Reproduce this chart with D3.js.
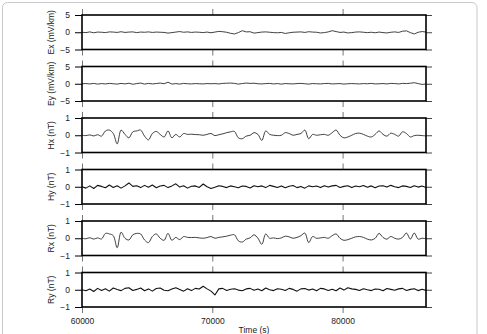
<!DOCTYPE html>
<html>
<head>
<meta charset="utf-8">
<script src="https://cdn.jsdelivr.net/npm/d3@7"></script>
<style>
  body { margin: 0; background: #fff; }
  svg { display: block; font-family: "Liberation Sans", Arial, sans-serif; }
  .axis text { font-size: 8.5px; fill: #222; }
</style>
</head>
<body>
<script>
// sample times (s)
var times = [60000,60300,60600,60900,61200,61500,61800,62100,62400,62700,
63000,63300,63600,63900,64200,64500,64800,65100,65400,65700,
66000,66300,66600,66900,67200,67500,67800,68100,68400,68700,
69000,69300,69600,69900,70200,70500,70800,71100,71400,71700,
72000,72300,72600,72900,73200,73500,73800,74100,74400,74700,
75000,75300,75600,75900,76200,76500,76800,77100,77400,77700,
78000,78300,78600,78900,79200,79500,79800,80100,80400,80700,
81000,81300,81600,81900,82200,82500,82800,83100,83400,83700,
84000,84300,84600,84900,85200,85500,85800,86100,86400];

var ex = [0.0,-0.1,0.1,-0.15,0.05,0.0,-0.1,0.1,0.05,-0.05,
0.15,-0.05,0.05,0.1,-0.1,0.05,0.0,0.1,-0.05,0.05,
0.0,-0.05,-0.25,-0.1,0.05,0.2,0.0,0.1,-0.05,0.05,
0.0,-0.1,0.05,-0.15,0.05,0.25,0.15,0.0,-0.3,-0.5,
-0.1,0.45,0.1,0.15,-0.25,-0.1,0.05,0.1,0.0,-0.1,
-0.15,-0.05,-0.35,-0.15,0.0,0.05,0.1,-0.05,0.15,0.05,
0.0,-0.2,-0.1,0.1,0.45,0.2,-0.05,0.05,-0.2,-0.1,
0.05,0.1,0.0,-0.1,0.0,-0.15,0.05,-0.1,-0.2,0.0,
0.1,-0.05,0.3,0.4,-0.1,-0.5,0.0,0.2,0.05];

var ey = [0.0,0.05,-0.05,0.1,-0.1,0.05,-0.05,0.1,0.0,-0.1,
0.1,-0.05,0.15,-0.15,0.05,0.2,-0.1,0.1,-0.05,0.05,
0.2,0.0,0.45,-0.1,0.05,-0.1,0.1,0.0,-0.05,0.05,
0.0,-0.05,0.05,0.0,0.05,-0.05,0.1,0.15,0.2,0.1,
-0.1,0.05,0.2,0.1,0.15,0.0,-0.05,0.05,0.1,-0.05,
0.05,-0.1,0.05,0.0,-0.05,0.05,0.1,0.0,-0.1,0.05,
0.0,-0.05,0.05,0.1,-0.05,0.0,0.05,-0.1,0.0,0.05,
0.0,-0.05,0.05,0.0,0.1,-0.05,0.0,0.05,-0.05,0.1,
0.05,-0.05,0.1,0.05,0.15,0.3,0.05,-0.2,-0.05];

var hx = [0.0,-0.02,0.02,-0.04,0.03,-0.05,0.25,0.3,0.1,-0.5,
0.3,0.05,-0.15,0.2,0.25,0.3,-0.05,-0.27,0.1,0.22,
0.05,-0.1,0.25,-0.15,0.05,-0.1,0.1,0.05,0.06,0.04,
0.03,0.0,0.05,0.1,-0.02,0.03,0.08,0.15,0.2,0.22,
-0.15,-0.2,-0.05,0.0,0.15,0.05,-0.3,0.25,0.05,0.0,
-0.02,0.0,0.15,0.1,0.0,0.05,0.1,0.3,-0.2,0.05,
0.0,0.03,0.05,0.0,0.15,0.3,0.0,-0.15,-0.1,0.0,
0.1,0.12,0.05,-0.05,-0.1,0.05,0.25,0.05,-0.05,0.12,
0.05,-0.05,0.2,0.1,-0.1,-0.02,0.0,-0.02,-0.04];

var hy = [0.0,-0.08,0.05,-0.1,0.08,0.02,-0.06,0.1,-0.04,0.06,
-0.08,0.05,0.22,0.02,0.06,-0.05,0.08,-0.03,0.1,-0.06,
0.04,0.08,-0.05,0.05,0.17,-0.02,0.06,-0.08,0.03,0.05,
-0.04,0.16,0.0,-0.1,-0.03,0.06,0.02,-0.05,0.05,0.0,
-0.06,0.04,0.02,-0.07,0.06,0.0,0.05,-0.05,0.08,0.02,
-0.04,0.05,-0.06,0.03,0.07,-0.05,0.02,-0.08,0.05,0.0,
0.04,-0.05,0.06,-0.02,0.05,0.08,-0.04,0.02,0.06,-0.05,
0.04,0.0,0.07,-0.03,0.05,-0.06,0.04,0.06,-0.02,0.08,
0.0,-0.05,0.05,0.02,-0.04,0.06,-0.02,0.04,-0.05];

var rx = [0.0,-0.03,0.03,-0.05,0.02,-0.04,0.28,0.25,0.15,-0.55,
0.35,0.0,-0.1,0.2,0.28,0.25,-0.1,-0.25,0.1,0.25,
0.0,-0.12,0.28,-0.12,0.05,-0.08,0.1,0.05,0.04,0.05,
0.02,0.0,0.04,0.1,0.0,0.05,0.08,0.12,0.18,0.2,
-0.15,-0.22,-0.05,0.02,0.2,0.0,-0.35,0.25,0.0,0.02,
-0.02,0.02,0.12,0.08,0.0,0.05,0.15,0.3,-0.25,0.1,
0.0,0.02,0.05,0.0,0.15,0.25,0.0,-0.12,-0.08,0.0,
0.08,0.1,0.05,-0.05,-0.1,0.0,0.28,0.05,-0.05,0.1,
0.0,-0.05,0.05,0.3,-0.05,0.3,-0.05,0.0,-0.03];

var ry = [0.0,-0.06,0.04,-0.1,0.08,-0.04,0.06,-0.08,0.1,0.02,
-0.05,0.08,0.12,-0.04,0.02,0.1,-0.06,0.05,-0.08,0.07,
0.1,-0.03,-0.06,0.04,0.12,0.02,-0.08,0.06,-0.05,0.08,
0.04,0.2,0.05,-0.08,-0.3,0.05,0.08,-0.04,0.03,0.06,
-0.02,-0.06,0.05,0.08,-0.03,0.04,-0.06,0.1,0.0,-0.05,
0.06,0.03,-0.04,0.08,0.02,-0.08,0.05,0.07,-0.02,0.04,
-0.06,0.08,0.05,-0.04,0.03,-0.06,0.1,-0.02,0.12,0.05,
0.02,-0.04,0.06,0.0,-0.05,0.04,0.03,-0.06,0.07,0.02,
-0.03,0.05,0.08,-0.04,0.02,0.06,-0.05,0.03,-0.04];

var labels = ["Ex (mV/km)", "Ey (mV/km)", "Hx (nT)", "Hy (nT)", "Rx (nT)", "Ry (nT)"];
var limits = [5, 5, 1, 1, 1, 1];
var series = [ex, ey, hx, hy, rx, ry];
var xTicks = [60000, 70000, 80000];

var W = 487, H = 334;
var left = 82, pw = 344, ph = 34.5, top0 = 15, step = 51.5;

var svg = d3.select("body").append("svg")
  .attr("width", W).attr("height", H);

// figure frame
svg.append("rect")
  .attr("x", 2.5).attr("y", 2.5)
  .attr("width", 474.5).attr("height", 340)
  .attr("rx", 5)
  .attr("fill", "none")
  .attr("stroke", "#c8c8c8");

var xScale = d3.scaleLinear().domain([60000, 86400]).range([0, pw]);

series.forEach(function(vals, k) {
  var lim = limits[k];
  var yScale = d3.scaleLinear().domain([-lim, lim]).range([ph, 0]);
  var g = svg.append("g")
    .attr("transform", "translate(" + left + "," + (top0 + k * step) + ")");

  g.append("clipPath").attr("id", "clip" + k)
    .append("rect").attr("width", pw).attr("height", ph);

  // x ticks above and below each panel
  g.append("g").attr("class", "xt")
    .call(d3.axisTop(xScale).tickValues(xTicks).tickSize(6).tickFormat(""));
  var xb = g.append("g").attr("class", "xt")
    .attr("transform", "translate(0," + ph + ")")
    .call(d3.axisBottom(xScale).tickValues(xTicks).tickSize(6).tickPadding(5)
      .tickFormat(k === series.length - 1 ? d3.format("d") : ""));
  g.selectAll(".xt .domain").remove();
  g.selectAll(".xt line").attr("stroke", "#777");
  xb.attr("class", "axis");

  // y axis left with labels, right with plain ticks
  var ya = g.append("g").attr("class", "axis")
    .call(d3.axisLeft(yScale).tickValues([-lim, 0, lim]).tickSize(7).tickPadding(5)
      .tickFormat(d3.format("d")));
  ya.select(".domain").remove();
  var yr = g.append("g")
    .attr("transform", "translate(" + pw + ",0)")
    .call(d3.axisRight(yScale).tickValues([-lim, 0, lim]).tickSize(6).tickFormat(""));
  yr.select(".domain").remove();
  yr.selectAll("line").attr("stroke", "#444");

  var smooth = (k === 2 || k === 4);
  var line = d3.line()
    .x(function(d, i) { return xScale(times[i]); })
    .y(function(d) { return yScale(d); })
    .curve(smooth ? d3.curveCatmullRom : d3.curveLinear);

  g.append("path")
    .datum(vals)
    .attr("clip-path", "url(#clip" + k + ")")
    .attr("fill", "none")
    .attr("stroke", "#111")
    .attr("stroke-width", (k === 3 || k === 5) ? 1.1 : 0.8)
    .attr("stroke-linejoin", "round")
    .attr("d", line);

  g.append("rect")
    .attr("width", pw).attr("height", ph)
    .attr("fill", "none")
    .attr("stroke", "#000")
    .attr("stroke-width", 1.6);

  g.append("text")
    .attr("transform", "translate(-28," + (ph / 2) + ") rotate(-90)")
    .attr("text-anchor", "middle")
    .attr("font-size", "8.5px")
    .attr("fill", "#222")
    .text(labels[k]);
});

svg.append("text")
  .attr("x", left + pw / 2)
  .attr("y", 333)
  .attr("text-anchor", "middle")
  .attr("font-size", "8.5px")
  .attr("fill", "#222")
  .text("Time (s)");
</script>
</body>
</html>
